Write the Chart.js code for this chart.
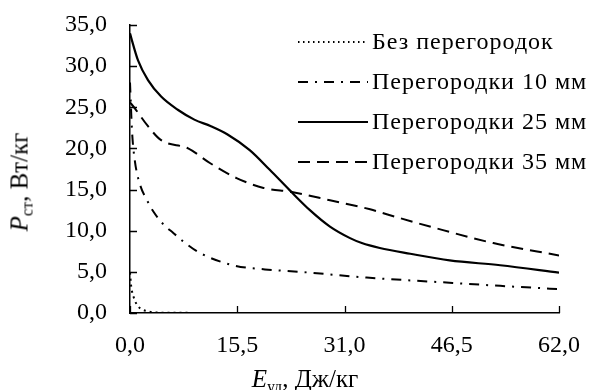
<!DOCTYPE html>
<html>
<head>
<meta charset="utf-8">
<script src="https://cdn.jsdelivr.net/npm/chart.js@4"></script>
<style>
  html, body { margin: 0; padding: 0; background: #fff; }
  #wrap { position: relative; width: 597px; height: 390px; overflow: hidden; }
  .title { position: absolute; font-family: 'Liberation Serif', serif; font-size: 25px; color: #000; white-space: nowrap; line-height: 1; }
  .title sub { font-size: 16px; vertical-align: -5px; }
  #ytitle { left: 21px; top: 182px; transform: translate(-50%, -50%) rotate(-90deg); }
  #xtitle { left: 305px; top: 366px; transform: translateX(-50%); }
</style>
</head>
<body>
<div id="wrap">
  <canvas id="chart" width="597" height="390"></canvas>
  <div id="ytitle" class="title"><i>P</i><sub>ст</sub>, Вт/кг</div>
  <div id="xtitle" class="title"><i>E</i><sub>уд</sub>, Дж/кг</div>
</div>
<script>
// series (E, Дж/кг -> P, Вт/кг)
const labels = ['Без перегородок', 'Перегородки 10 мм', 'Перегородки 25 мм', 'Перегородки 35 мм'];

const eNone = [0, 0.15, 0.25, 0.5, 1.0, 1.7, 2.4, 3.8, 8.7];
const pNone = [4.9, 3.4, 2.8, 2.0, 1.0, 0.45, 0.25, 0.05, 0.03];

const e10 = [0, 0.3, 0.7, 1.45, 2.4, 3.4, 4.8, 6.3, 8.0, 10.1, 14.9, 19.5, 24.6, 34.2, 43.8, 53.5, 62];
const p10 = [28.0, 22.0, 18.5, 15.6, 13.8, 12.3, 10.8, 9.7, 8.5, 7.3, 5.8, 5.3, 5.0, 4.3, 3.8, 3.3, 2.9];

const e25 = [0, 0.19, 1.16, 2.6, 4.5, 6.9, 9.3, 11.7, 14.1, 17.3, 20.2, 23.1, 26.0, 28.9, 31.8, 33.5, 36.1, 40.5, 46.2, 53.5, 62];
const p25 = [34.0, 33.4, 30.7, 28.3, 26.3, 24.7, 23.5, 22.7, 21.7, 19.8, 17.4, 14.9, 12.5, 10.5, 9.1, 8.5, 7.9, 7.2, 6.4, 5.8, 4.9];

const e35 = [0, 0.67, 2.6, 4.5, 8.4, 11.6, 15.4, 19.3, 23.4, 28.9, 34.7, 37.1, 43.8, 52.5, 62];
const p35 = [25.6, 24.9, 22.7, 21.0, 20.0, 18.2, 16.4, 15.2, 14.7, 13.7, 12.6, 12.0, 10.4, 8.5, 7.0];

const xTicks = [0, 15.5, 31, 46.5, 62];
const yMax = 35, yStep = 5;

const font = "'Liberation Serif', 'Times New Roman', serif";
const pts = (xs, ys) => xs.map((x, i) => ({ x, y: ys[i] }));
const fmt = v => Number(v).toFixed(1).replace('.', ',');

const base = { borderColor: '#000', pointRadius: 0, fill: false, cubicInterpolationMode: 'monotone', borderWidth: 2 };

// inward tick marks
const innerTicks = {
  id: 'innerTicks',
  afterDraw(chart) {
    const { ctx, scales: { x, y } } = chart;
    ctx.save();
    ctx.strokeStyle = '#000';
    ctx.lineWidth = 1.3;
    ctx.beginPath();
    xTicks.forEach(v => {
      const px = Math.round(x.getPixelForValue(v)) + 0.5;
      ctx.moveTo(px, y.bottom); ctx.lineTo(px, y.bottom - 7);
    });
    for (let v = 0; v <= yMax; v += yStep) {
      const py = Math.round(y.getPixelForValue(v)) + 0.5;
      ctx.moveTo(x.left, py); ctx.lineTo(x.left + 7, py);
    }
    ctx.stroke();
    ctx.restore();
  }
};

// legend in the upper right, line sample left of the text
const lineLegend = {
  id: 'lineLegend',
  afterDraw(chart) {
    const ctx = chart.ctx;
    ctx.save();
    ctx.font = '24px ' + font;
    ctx.fillStyle = '#000';
    ctx.textBaseline = 'alphabetic';
    chart.data.datasets.forEach((ds, i) => {
      const yy = 42 + i * 40;
      ctx.strokeStyle = '#000';
      ctx.lineWidth = ds.borderWidth;
      ctx.setLineDash(i === 0 ? [1.5, 3.5] : (ds.borderDash || []));
      ctx.beginPath();
      ctx.moveTo(298, yy); ctx.lineTo(368, yy);
      ctx.stroke();
      ctx.setLineDash([]);
      ctx.letterSpacing = '1px';
      ctx.fillText(ds.label, 372, yy + 7);
      ctx.letterSpacing = '0px';
    });
    ctx.restore();
  }
};

new Chart(document.getElementById('chart'), {
  type: 'line',
  data: {
    datasets: [
      { ...base, label: labels[0], data: pts(eNone, pNone), borderDash: [2, 4] },
      { ...base, label: labels[1], data: pts(e10, p10), borderDash: [10, 7, 2, 7] },
      { ...base, label: labels[2], data: pts(e25, p25), borderWidth: 2.2 },
      { ...base, label: labels[3], data: pts(e35, p35), borderDash: [12, 7] },
    ]
  },
  options: {
    responsive: false,
    animation: false,
    layout: { padding: { left: 0, right: 38, top: 25, bottom: 0 } },
    plugins: { legend: { display: false }, tooltip: { enabled: false } },
    scales: {
      x: {
        type: 'linear', min: 0, max: 62,
        afterBuildTicks: s => { s.ticks = xTicks.map(value => ({ value })); },
        afterFit: s => { s.height = 77; s.paddingLeft = 0; s.paddingRight = 0; },
        grid: { display: false },
        border: { color: '#000', width: 1.5 },
        ticks: { color: '#000', font: { family: font, size: 24 }, padding: 10, maxRotation: 0, callback: fmt }
      },
      y: {
        min: 0, max: yMax,
        afterFit: s => { s.width = 130; s.paddingTop = 0; s.paddingBottom = 0; },
        grid: { display: false },
        border: { color: '#000', width: 1.5 },
        ticks: { color: '#000', font: { family: font, size: 24 }, padding: 15, stepSize: yStep, callback: fmt }
      }
    }
  },
  plugins: [innerTicks, lineLegend]
});
</script>
</body>
</html>
